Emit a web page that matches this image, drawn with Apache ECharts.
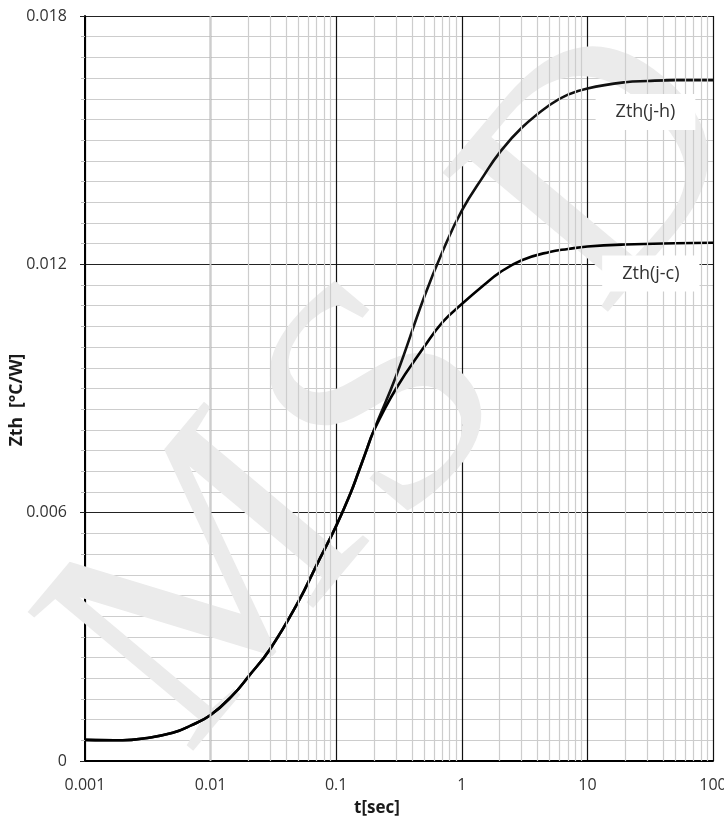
<!DOCTYPE html>
<html>
<head>
<meta charset="utf-8">
<script src="https://cdn.jsdelivr.net/npm/echarts@6/dist/echarts.min.js"></script>
<style>
html,body{margin:0;padding:0;background:#fff;}
#chart{width:724px;height:819px;}
</style>
</head>
<body>
<div id="chart"></div>
<script>
// ---- data ----
const tJH = [0.001,0.002,0.003,0.005,0.007,0.01,0.015,0.02,0.03,0.05,0.07,0.1,0.13,0.15,0.17,0.2,0.3,0.5,0.7,1,1.5,2,3,5,7,10,20,30,50,100];
const zJH = [0.00051,0.00050,0.00055,0.00068,0.00086,0.00111,0.00159,0.00204,0.00272,0.00385,0.00474,0.00568,0.00647,0.00697,0.00742,0.0080,0.0093,0.0112,0.0123,0.0133,0.01415,0.0147,0.0153,0.01585,0.0161,0.01625,0.0164,0.01643,0.01645,0.01645];
const tJC = [0.001,0.002,0.003,0.005,0.007,0.01,0.015,0.02,0.03,0.05,0.07,0.1,0.13,0.15,0.17,0.2,0.3,0.5,0.7,1,1.5,2,3,5,7,10,20,50,100];
const zJC = [0.00051,0.00050,0.00055,0.00068,0.00086,0.00111,0.00159,0.00204,0.00272,0.00385,0.00474,0.00568,0.00647,0.00697,0.00742,0.00799,0.0090,0.0100,0.0106,0.01104,0.0115,0.0118,0.0121,0.0123,0.01237,0.01243,0.01248,0.01251,0.01252];
const seriesNames = ['Zth(j-h)','Zth(j-c)'];
const labelAnchors = [[29, 0.01568],[32, 0.01178]];
const xTickLabels = ['0.001','0.01','0.1','1','10','100'];
const yTickLabels = ['0','0.006','0.012','0.018'];
const xMinorGrid = [0.002,0.003,0.004,0.005,0.006,0.007,0.008,0.009,
  0.02,0.03,0.04,0.05,0.06,0.07,0.08,0.09,
  0.2,0.3,0.4,0.5,0.6,0.7,0.8,0.9,
  2,3,4,5,6,7,8,9,
  20,30,40,50,60,70,80,90];
const xTitle = 't[sec]';
const yTitle = 'Zth  [°C/W]';
const watermark = ['M','S','D'];

const FONT = '"Open Sans", "Noto Sans", sans-serif';
const chart = echarts.init(document.getElementById('chart'), null, {renderer:'canvas'});

// watermark letters (decoration), rotated
const th = 50*Math.PI/180;
const wmPos = [[215,590],[392,407],[612,172]];
const wmEls = watermark.map((ch,i)=>({
  type:'text', silent:true, z:1.5,
  x: wmPos[i][0], y: wmPos[i][1],
  rotation: th,
  style:{text:ch, font:'330px "Liberation Serif", "DejaVu Serif", serif', fill:'#ebebeb', textAlign:'center', textVerticalAlign:'middle'}
}));

function mkSeries(i, t, z, color){
  return {
    name: seriesNames[i], type:'line', z:3,
    data: t.map((x,k)=>[x, z[k]]),
    showSymbol:false, smooth:0.45,
    lineStyle:{color:color, width:2.6},
    animation:false, silent:true,
    markPoint:{
      symbol:'rect', symbolSize:0, silent:true, animation:false,
      label:{show:true, position:'inside', formatter: seriesNames[i],
        fontFamily:FONT, fontSize:18, color:'#333', lineHeight:18,
        backgroundColor:'#fff', padding:[9,20]},
      data:[{coord: labelAnchors[i]}]
    }
  };
}

chart.setOption({
  backgroundColor:'#fff',
  animation:false,
  grid:{left:85, right:11, top:16, bottom:58, outerBoundsMode:'none', containLabel:false},
  xAxis:{
    type:'log', logBase:10, min:0.001, max:100, splitNumber:5,
    axisLine:{show:true, lineStyle:{color:'#000', width:2}},
    axisTick:{show:false},
    axisLabel:{color:'#333', fontFamily:FONT, fontSize:16, margin:16,
      formatter:(v)=>xTickLabels[Math.round(Math.log10(v))+3]},
    splitLine:{show:true, lineStyle:{color:'#111', width:1.2}},
    minorTick:{show:false},
    minorSplitLine:{show:false}
  },
  yAxis:{
    type:'value', min:0, max:0.018, interval:0.006,
    axisLine:{show:true, lineStyle:{color:'#000', width:2}},
    axisTick:{show:true, length:5, lineStyle:{color:'#222'}},
    axisLabel:{color:'#333', fontFamily:FONT, fontSize:16, margin:18,
      formatter:(v,i)=>yTickLabels[Math.round(v/0.006)]},
    splitLine:{show:true, lineStyle:{color:'#222', width:1.2}},
    minorTick:{show:true, splitNumber:12, length:4, lineStyle:{color:'#bbb'}},
    minorSplitLine:{show:true, lineStyle:{color:'#cdcdcd', width:1.2}}
  },
  graphic: wmEls.concat([
    {type:'text', x:377, y:808, silent:true,
     style:{text:xTitle, font:'bold 17px '+FONT, fill:'#1a1a1a', textAlign:'center', textVerticalAlign:'middle'}},
    {type:'text', x:17.5, y:400, rotation:Math.PI/2, silent:true,
     style:{text:yTitle, font:'bold 17.5px '+FONT, fill:'#1a1a1a', textAlign:'center', textVerticalAlign:'middle'}}
  ]),
  series:[
    {
      type:'line', z:1, data:[[0.001,0]], showSymbol:false, silent:true,
      lineStyle:{width:0}, animation:false,
      markLine:{silent:true, symbol:['none','none'], animation:false,
        label:{show:false},
        lineStyle:{color:'#cdcdcd', width:1.2, type:'solid'},
        emphasis:{disabled:true},
        data: xMinorGrid.map(v=>({xAxis:v}))}
    },
    mkSeries(0, tJH, zJH, '#111'),
    mkSeries(1, tJC, zJC, '#000')
  ]
});
</script>
</body>
</html>
